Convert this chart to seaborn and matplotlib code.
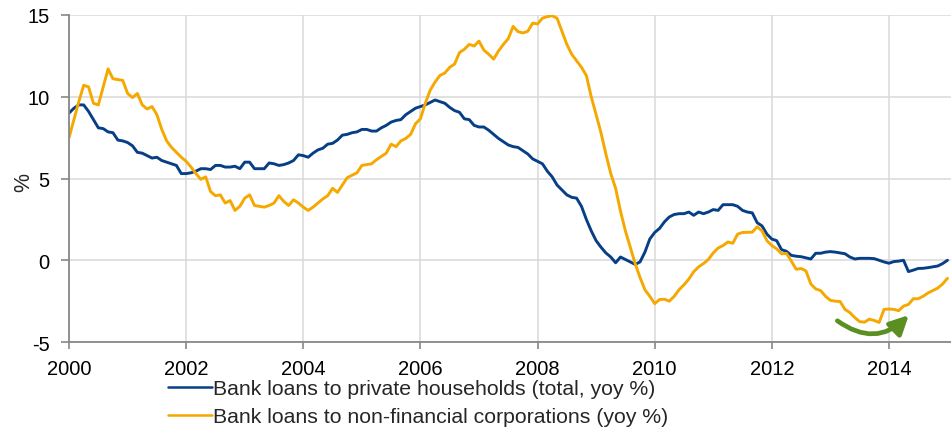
import numpy as np
import pandas as pd
import seaborn as sns
import matplotlib.pyplot as plt

# monthly yoy growth rates, Jan 2000 - Jan 2015
households = [
    9.0, 9.3, 9.5, 9.5, 9.1, 8.6, 8.1, 8.05, 7.85, 7.8, 7.35, 7.3,
    7.2, 7.0, 6.6, 6.55, 6.4, 6.25, 6.3, 6.1, 6.0, 5.9, 5.8, 5.3,
    5.3, 5.35, 5.45, 5.6, 5.6, 5.55, 5.8, 5.8, 5.7, 5.7, 5.75, 5.6,
    6.0, 6.0, 5.6, 5.6, 5.6, 5.95, 5.9, 5.8, 5.85, 5.95, 6.1, 6.45,
    6.4, 6.3, 6.55, 6.75, 6.85, 7.1, 7.15, 7.35, 7.65, 7.7, 7.8, 7.85,
    8.0, 8.0, 7.9, 7.9, 8.1, 8.25, 8.45, 8.55, 8.6, 8.9, 9.1, 9.3,
    9.4, 9.5, 9.65, 9.8, 9.7, 9.6, 9.35, 9.15, 9.05, 8.65, 8.6, 8.25,
    8.15, 8.15, 7.95, 7.7, 7.45, 7.25, 7.05, 6.95, 6.9, 6.7, 6.5, 6.2,
    6.05, 5.9, 5.45, 5.1, 4.6, 4.3, 4.0, 3.85, 3.8, 3.3, 2.5, 1.8,
    1.2, 0.8, 0.45, 0.2, -0.15, 0.2, 0.05, -0.1, -0.25, -0.1, 0.5, 1.3,
    1.7, 1.95, 2.35, 2.65, 2.8, 2.85, 2.85, 2.95, 2.75, 2.95, 2.85, 2.95,
    3.1, 3.05, 3.4, 3.4, 3.4, 3.3, 3.05, 2.95, 2.9, 2.3, 2.1, 1.6,
    1.3, 1.2, 0.65, 0.55, 0.3, 0.25, 0.22, 0.15, 0.08, 0.43, 0.43, 0.5,
    0.53, 0.5, 0.45, 0.4, 0.2, 0.08, 0.12, 0.12, 0.12, 0.1, 0.0, -0.1,
    -0.18, -0.08, -0.05, 0.0, -0.69, -0.6, -0.5, -0.49, -0.45, -0.4, -0.35, -0.2,
    0.0,
]
corporations = [
    7.5, 8.6, 9.7, 10.7, 10.6, 9.6, 9.5, 10.6, 11.7, 11.1, 11.05, 11.0,
    10.2, 9.95, 10.2, 9.5, 9.25, 9.4, 8.9, 8.0, 7.3, 6.9, 6.6, 6.3,
    6.05, 5.7, 5.3, 4.95, 5.1, 4.2, 3.95, 4.0, 3.5, 3.65, 3.05, 3.3,
    3.8, 4.0, 3.35, 3.3, 3.25, 3.35, 3.5, 3.95, 3.6, 3.35, 3.7, 3.5,
    3.25, 3.05, 3.25, 3.5, 3.75, 3.95, 4.4, 4.15, 4.6, 5.05, 5.2, 5.35,
    5.8, 5.85, 5.9, 6.15, 6.35, 6.55, 7.1, 6.95, 7.3, 7.45, 7.7, 8.35,
    8.65, 9.6, 10.4, 10.9, 11.3, 11.45, 11.8, 12.0, 12.7, 12.9, 13.2, 13.1,
    13.4, 12.85, 12.6, 12.3, 12.8, 13.2, 13.55, 14.3, 13.98, 13.9, 14.0, 14.5,
    14.45, 14.8, 14.9, 14.95, 14.8, 14.0, 13.2, 12.6, 12.2, 11.8, 11.3, 10.0,
    8.9, 7.8, 6.5, 5.3, 4.4, 3.0, 1.8, 0.8, -0.2, -1.05, -1.8, -2.2,
    -2.65, -2.4, -2.38, -2.5, -2.2, -1.8, -1.5, -1.15, -0.7, -0.4, -0.2, 0.05,
    0.45, 0.75, 0.9, 1.12, 1.04, 1.6, 1.7, 1.71, 1.72, 2.05, 1.8, 1.2,
    0.9, 0.7, 0.4, 0.42, -0.05, -0.55, -0.5, -0.65, -1.45, -1.75, -1.85, -2.2,
    -2.45, -2.5, -2.52, -3.0, -3.2, -3.5, -3.75, -3.78, -3.6, -3.68, -3.8, -3.0,
    -2.98, -3.0, -3.08, -2.8, -2.7, -2.35, -2.35, -2.2, -2.0, -1.85, -1.7, -1.45,
    -1.1,
]
labels = ['Bank loans to private households (total, yoy %)',
          'Bank loans to non-financial corporations (yoy %)']
colors = ['#073f86', '#f5a800']
xticks = [2000, 2002, 2004, 2006, 2008, 2010, 2012, 2014]
yticks = [-5, 0, 5, 10, 15]

dates = pd.date_range('2000-01-01', periods=len(households), freq='MS')
year = dates.year + (dates.month - 1) / 12
df = pd.concat([
    pd.DataFrame({'year': year, 'value': households, 'series': labels[0]}),
    pd.DataFrame({'year': year, 'value': corporations, 'series': labels[1]}),
])

sns.set_style('whitegrid')
plt.rcParams['font.family'] = ['Liberation Sans', 'DejaVu Sans']
plt.rcParams['axes.unicode_minus'] = False

fig = plt.figure(figsize=(9.51, 4.31), dpi=100)
ax = fig.add_axes([0.0726, 0.204, 0.9274, 0.759])
sns.lineplot(data=df, x='year', y='value', hue='series', palette=colors,
             linewidth=2.1, ax=ax)

ax.set_xlim(2000, 2015.06)
ax.set_ylim(-5, 15)
ax.set_xticks(xticks)
ax.set_yticks(yticks)
ax.set_xlabel('')
ax.set_ylabel('%', fontsize=15.5)
ax.yaxis.set_label_coords(-0.039, 0.49)
ax.tick_params(labelsize=14.5, colors='black')
ax.tick_params(axis='y', length=6, width=1.2, color='#888888', pad=8, left=True)
ax.tick_params(axis='x', length=5, width=1.2, color='#888888', pad=7, bottom=True)
ax.grid(color='#d9d9d9', linewidth=1.1)
for s in ['top', 'right']:
    ax.spines[s].set_visible(False)
for s in ['left', 'bottom']:
    ax.spines[s].set_color('#888888')
    ax.spines[s].set_linewidth(1.3)

# green turning-point arrow
ax.annotate('', xy=(2014.34, -3.35), xytext=(2013.12, -3.7),
            arrowprops=dict(arrowstyle='-|>', connectionstyle='arc3,rad=0.42',
                            color='#5b8f22', lw=3.4, mutation_scale=28,
                            shrinkA=0, shrinkB=0))

handles, _ = ax.get_legend_handles_labels()
leg = ax.legend(handles, labels, loc='upper left', bbox_to_anchor=(168 / 951, 0.118),
                bbox_transform=fig.transFigure, frameon=False, fontsize=15.3,
                handlelength=2.05, handletextpad=0.05, labelspacing=0.42,
                borderpad=0, borderaxespad=0)
for line in leg.get_lines():
    line.set_linewidth(1.8)

fig.savefig('out.png', dpi=100)
